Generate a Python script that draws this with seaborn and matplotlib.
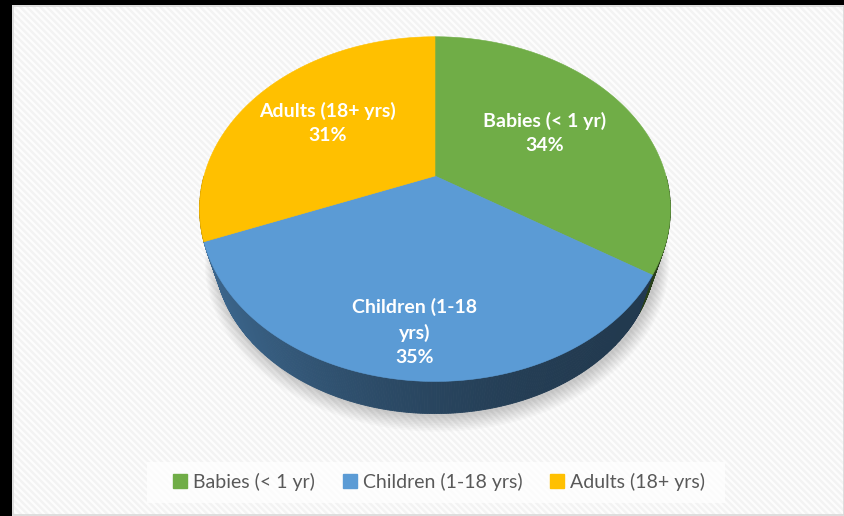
import numpy as np
import matplotlib
matplotlib.use("Agg")
import matplotlib.pyplot as plt
import seaborn as sns
from matplotlib.patches import Rectangle, Polygon, Patch

# ---- data -------------------------------------------------------------
groups = ["Babies (< 1 yr)", "Children (1-18 yrs)", "Adults (18+ yrs)"]
slice_titles = ["Babies (< 1 yr)", "Children (1-18\nyrs)", "Adults (18+ yrs)"]
shares = [34, 35, 31]
colors = sns.color_palette(["#70ad47", "#5b9bd5", "#ffc000"])

# ---- style ------------------------------------------------------------
sns.set_theme(style="white")
plt.rcParams["font.family"] = ["Lato", "DejaVu Sans"]
plt.rcParams["hatch.linewidth"] = 1.8

W, H = 844, 516
fig = plt.figure(figsize=(W / 100, H / 100), dpi=100, facecolor="black")
ax = fig.add_axes([0, 0, 1, 1])
ax.set_xlim(0, W)
ax.set_ylim(H, 0)
ax.axis("off")

# chart area: white with faint diagonal stripes
ax.add_patch(Rectangle((12, 5), W - 12, H - 5, facecolor="#fdfdfd",
                       edgecolor="#f3f3f3", hatch="\\\\\\\\\\", linewidth=0, zorder=0))
ax.add_patch(Rectangle((12.5, 5.5), W - 13, H - 6.5, facecolor="none",
                       edgecolor="#d9d9d9", linewidth=1.2, zorder=0.5))

# ---- perspective 3-D pie ---------------------------------------------
CX, CY = 435.0, 176.0      # projected pie centre
A, B = 231.0, 166.0        # horizontal / vertical scale
K = 0.192                  # perspective strength
VY = 900.0                 # vanishing point of the vertical edges
SHRINK = 0.938             # bottom face scale towards the vanishing point


def project(theta, r=1.0):
    x = r * np.sin(theta)
    y = r * np.cos(theta)
    w = 1 + K * y
    return CX + A * x / w, CY - B * y / w


def lower(px, py):
    return CX + SHRINK * (px - CX), VY + SHRINK * (py - VY)


# soft shadow beneath the disc
full = np.linspace(0, 2 * np.pi, 361)
for i in range(10, 0, -1):
    sx, sy = lower(*project(full, r=1.0 + i * 0.005))
    ax.fill(sx + 2, sy + 1 + i * 0.5, color="black", alpha=0.02, lw=0, zorder=1)

fracs = np.array(shares, dtype=float) / sum(shares)
bounds = np.concatenate([[0], np.cumsum(fracs)]) * 2 * np.pi

# side wall, drawn back to front with a left-to-right shading ramp
segs = []
for i, (a0, a1) in enumerate(zip(bounds[:-1], bounds[1:])):
    lo, hi = max(a0, np.pi / 2), min(a1, 3 * np.pi / 2)
    if hi <= lo:
        continue
    n = max(2, int((hi - lo) / np.radians(0.5)))
    t = np.linspace(lo, hi, n + 1)
    for s0, s1 in zip(t[:-1], t[1:]):
        segs.append((np.cos((s0 + s1) / 2), i, s0, s1))
segs.sort(key=lambda s: -s[0])
left_x, right_x = CX - A * 1.02, CX + A * 1.02
for _, i, s0, s1 in segs:
    tt = np.array([s0, s1])
    tx, ty = project(tt)
    bx, by = lower(tx[::-1], ty[::-1])
    mx = (tx.mean() - left_x) / (right_x - left_x)
    shade = 0.37 + 0.30 * (1 - np.clip(mx, 0, 1)) ** 2
    c = tuple(np.array(colors[i]) * shade)
    ax.add_patch(Polygon(np.column_stack([np.r_[tx, bx], np.r_[ty, by]]),
                         closed=True, facecolor=c, edgecolor=c, lw=0.6, zorder=2))

# top face
for i, (a0, a1) in enumerate(zip(bounds[:-1], bounds[1:])):
    t = np.linspace(a0, a1, 200)
    px, py = project(t)
    ax.add_patch(Polygon(np.column_stack([np.r_[CX, px], np.r_[CY, py]]),
                         closed=True, facecolor=colors[i], edgecolor=colors[i],
                         lw=0.4, zorder=3))

# data labels
label_r = [0.57, 0.80, 0.60]
for i, (a0, a1) in enumerate(zip(bounds[:-1], bounds[1:])):
    lx, ly = project((a0 + a1) / 2, r=label_r[i])
    ax.text(lx, ly, f"{slice_titles[i]}\n{shares[i]}%", color="white",
            fontsize=14, fontweight="bold", ha="center", va="center",
            linespacing=1.5, zorder=5)

# ---- legend -----------------------------------------------------------
ax.add_patch(Rectangle((147, 462), 578, 41, facecolor="white", alpha=0.75,
                       lw=0, zorder=4))
handles = [Patch(facecolor=c, edgecolor=c) for c in colors]
leg = fig.legend(handles, groups, loc="center", ncol=3,
                 bbox_to_anchor=(439 / W, 1 - 482 / H), frameon=False,
                 fontsize=14, handlelength=0.72, handleheight=0.72,
                 handletextpad=0.3, columnspacing=1.45, borderpad=0)
for txt in leg.get_texts():
    txt.set_color("#595959")

fig.savefig("out.png", dpi=100, facecolor=fig.get_facecolor())
